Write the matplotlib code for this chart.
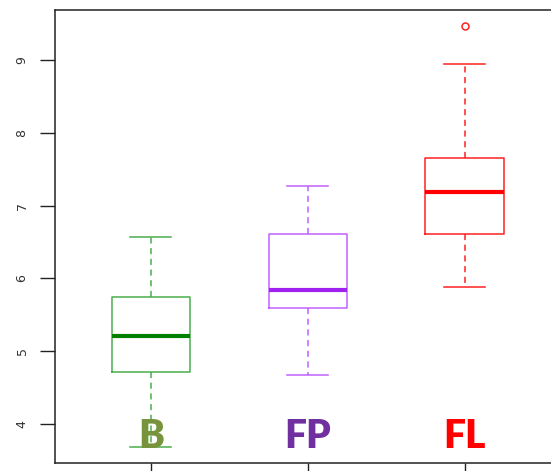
import matplotlib.pyplot as plt

# box summaries
groups = ['B', 'FP', 'FL']
whisker_low = [3.68, 4.67, 5.88]
q1 = [4.71, 5.59, 6.61]
medians = [5.21, 5.84, 7.19]
q3 = [5.75, 6.61, 7.65]
whisker_high = [6.57, 7.27, 8.95]
outliers = [[], [], [9.47]]

box_colors = ['#4aae4a', '#c060ff', '#ff2020']
median_colors = ['#008000', '#a020f0', '#ff0000']
label_colors = ['#77933c', '#7030a0', '#ff0000']

fig = plt.figure(figsize=(5.51, 4.71), dpi=100)
ax = fig.add_axes([55 / 551, 8 / 471, 500 / 551, 453 / 471])

stats = []
for i, g in enumerate(groups):
    stats.append({'label': g, 'whislo': whisker_low[i], 'q1': q1[i], 'med': medians[i],
                  'q3': q3[i], 'whishi': whisker_high[i], 'fliers': outliers[i]})

positions = [1, 2, 3]
for i in range(len(groups)):
    ax.bxp([stats[i]], positions=[positions[i]], widths=0.5, showfliers=True,
           boxprops=dict(color=box_colors[i], linewidth=1.1),
           medianprops=dict(color=median_colors[i], linewidth=3),
           whiskerprops=dict(color=box_colors[i], linewidth=1.1, linestyle=(0, (4, 3))),
           capprops=dict(color=box_colors[i], linewidth=1.1),
           capwidths=0.26,
           flierprops=dict(marker='o', markersize=5, markerfacecolor='none',
                           markeredgecolor=box_colors[i], markeredgewidth=1.1))

for i, g in enumerate(groups):
    ax.text(positions[i], 3.83, g, ha='center', va='center', fontsize=28,
            fontweight='heavy', family='Lato', color=label_colors[i])

ax.set_xlim(0.39, 3.575)
ax.set_ylim(3.464, 9.687)
ax.set_xticks(positions)
ax.set_xticklabels([])
ax.set_yticks([4, 5, 6, 7, 8, 9])
ax.set_yticklabels(['4', '5', '6', '7', '8', '9'], rotation=90, va='center', fontsize=9,
                   color='#333333')
ax.tick_params(axis='both', length=11, width=1, pad=8, color='#222222')
for s in ax.spines.values():
    s.set_linewidth(1.1)
    s.set_color('#222222')

fig.savefig('out.png', dpi=100)
